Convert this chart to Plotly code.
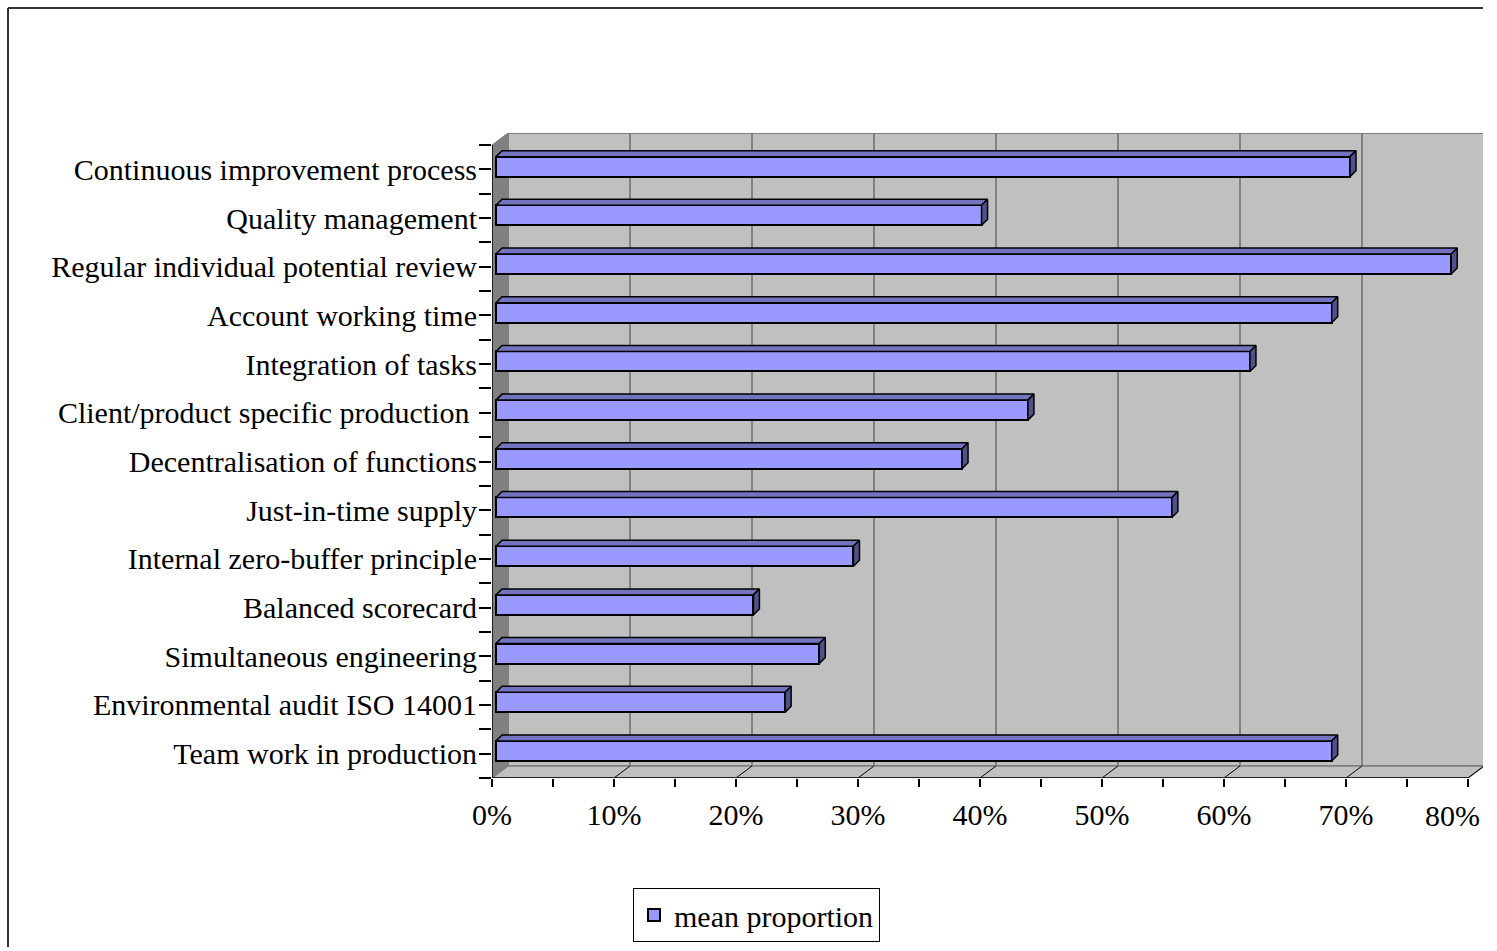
import plotly.graph_objects as go

# ---------------- data ----------------
categories = [
    "Continuous improvement process",
    "Quality management",
    "Regular individual potential review",
    "Account working time",
    "Integration of tasks",
    "Client/product specific production\u00a0",
    "Decentralisation of functions",
    "Just-in-time supply",
    "Internal zero-buffer principle",
    "Balanced scorecard",
    "Simultaneous engineering",
    "Environmental audit ISO 14001",
    "Team work in production",
]
mean_proportion = [0.700, 0.398, 0.783, 0.685, 0.618, 0.436, 0.382,
                   0.554, 0.293, 0.211, 0.265, 0.237, 0.685]
x_tick_values = [0.0, 0.1, 0.2, 0.3, 0.4, 0.5, 0.6, 0.7, 0.8]
x_tick_labels = ["0%", "10%", "20%", "30%", "40%", "50%", "60%", "70%", "80%"]
series_name = "mean proportion"

# ---------------- geometry / style ----------------
W, H = 1483, 947
ML, MR, MT, MB = 492, 0, 133, 169
XMAX = 0.8
PX_X = XMAX / 976.0          # data units per pixel (x)
n = len(categories)
PX_Y = n / 633.0             # data units per pixel (y)
x_range = [0, (W - ML - MR) * PX_X]
y_lo = -0.5
y_range = [y_lo, y_lo + (H - MT - MB) * PX_Y]

WALL_DX = 16 * PX_X
WALL_DY = 12 * PX_Y
BAR_BASE = 4 * PX_X
BAR_W = 20 * PX_Y
BAR_OFF = 2.7 * PX_Y - BAR_W / 2
DEP_X = 6 * PX_X
DEP_Y = 6 * PX_Y

FONT = "Liberation Serif, Times New Roman, serif"
FS = 30
FACE = "#9999FF"
TOP = "#7373BF"
SIDE = "#50508A"
WALL = "#C0C0C0"
SIDEWALL = "#808080"
GRID = "#6E6E6E"

positions = [n - 1 - i for i in range(n)]

fig = go.Figure()

fig.add_trace(go.Bar(
    y=positions, x=mean_proportion, base=BAR_BASE, orientation="h",
    width=BAR_W, offset=BAR_OFF, name=series_name,
    marker=dict(color=FACE, line=dict(color="black", width=2)),
    showlegend=True, hoverinfo="x",
))

tx, ty, sx, sy = [], [], [], []
for k, v in zip(positions, mean_proportion):
    yb = k + BAR_OFF
    yt = yb + BAR_W
    xe = BAR_BASE + v
    tx += [BAR_BASE, BAR_BASE + DEP_X, xe + DEP_X, xe, BAR_BASE, None]
    ty += [yt, yt + DEP_Y, yt + DEP_Y, yt, yt, None]
    sx += [xe, xe + DEP_X, xe + DEP_X, xe, xe, None]
    sy += [yt, yt + DEP_Y, yb + DEP_Y, yb, yt, None]
fig.add_trace(go.Scatter(x=tx, y=ty, mode="lines", fill="toself", fillcolor=TOP,
                         line=dict(color="black", width=1.5), showlegend=False,
                         hoverinfo="skip"))
fig.add_trace(go.Scatter(x=sx, y=sy, mode="lines", fill="toself", fillcolor=SIDE,
                         line=dict(color="black", width=1.5), showlegend=False,
                         hoverinfo="skip"))

shapes = []
y_top = y_range[1]
y_floor_back = y_lo + WALL_DY
shapes.append(dict(type="rect", xref="x", yref="y", x0=WALL_DX, x1=XMAX + WALL_DX,
                   y0=y_floor_back, y1=y_top, fillcolor=WALL,
                   line=dict(color=SIDEWALL, width=2), layer="below"))
shapes.append(dict(type="path", xref="x", yref="y",
                   path=f"M0,{y_lo} L{WALL_DX},{y_floor_back} L{WALL_DX},{y_top} L0,{y_top - WALL_DY} Z",
                   fillcolor=SIDEWALL, line=dict(color=SIDEWALL, width=1), layer="below"))
shapes.append(dict(type="path", xref="x", yref="y",
                   path=f"M0,{y_lo} L{XMAX},{y_lo} L{XMAX + WALL_DX},{y_floor_back} L{WALL_DX},{y_floor_back} Z",
                   fillcolor=WALL, line=dict(color=SIDEWALL, width=1.5), layer="below"))
for xv in x_tick_values[1:-1]:
    shapes.append(dict(type="line", xref="x", yref="y", x0=xv + WALL_DX, x1=xv + WALL_DX,
                       y0=y_floor_back, y1=y_top, line=dict(color=GRID, width=1.5), layer="below"))
for xv in x_tick_values[1:]:
    shapes.append(dict(type="line", xref="x", yref="y", x0=xv, x1=xv + WALL_DX,
                       y0=y_lo, y1=y_floor_back, line=dict(color="black", width=1), layer="below"))
shapes.append(dict(type="line", xref="x", yref="y", x0=0, x1=XMAX, y0=y_lo, y1=y_lo,
                   line=dict(color="black", width=1.5)))
shapes.append(dict(type="line", xref="x", yref="y", x0=0, x1=0, y0=y_lo, y1=y_top - WALL_DY,
                   line=dict(color="black", width=1.5)))
pw, ph = W - ML - MR, H - MT - MB
bx = (8 - ML) / pw
by = (H - MB - 8) / ph
shapes.append(dict(type="line", xref="paper", yref="paper", x0=bx, x1=(W - ML) / pw,
                   y0=by, y1=by, line=dict(color="#333333", width=2)))
shapes.append(dict(type="line", xref="paper", yref="paper", x0=bx, x1=bx,
                   y0=by, y1=(H - MB - H) / ph, line=dict(color="#333333", width=2)))

# last tick label kept inside the page (right-aligned at the edge)
shown_tick_text = x_tick_labels[:-1] + [""]
annotations = [dict(x=x_tick_values[-1], y=y_lo, xref="x", yref="y",
                    text=x_tick_labels[-1], showarrow=False,
                    xanchor="right", yanchor="middle", xshift=14, yshift=-37,
                    font=dict(family=FONT, size=FS, color="black"))]

fig.update_layout(
    width=W, height=H,
    margin=dict(l=ML, r=MR, t=MT, b=MB, pad=0),
    paper_bgcolor="white", plot_bgcolor="white",
    font=dict(family=FONT, size=FS, color="black"),
    bargap=0,
    shapes=shapes,
    annotations=annotations,
    showlegend=True,
    legend=dict(x=(633 - ML) / pw, y=(H - MB - 888) / ph, xanchor="left", yanchor="top",
                bordercolor="black", borderwidth=1, bgcolor="white",
                font=dict(family=FONT, size=FS, color="black")),
    xaxis=dict(range=x_range, tickvals=x_tick_values, ticktext=shown_tick_text,
               showgrid=False, zeroline=False, showline=False,
               ticks="outside", ticklen=8, tickwidth=1.5, tickcolor="black",
               minor=dict(dtick=0.05, tick0=0, ticks="outside", ticklen=8,
                          tickwidth=1.5, tickcolor="black", showgrid=False),
               fixedrange=True, ticklabelstandoff=2),
    yaxis=dict(range=y_range, tickvals=positions, ticktext=categories,
               showgrid=False, zeroline=False, showline=False,
               ticks="outside", ticklen=12, tickwidth=1.5, tickcolor="black",
               minor=dict(tickvals=[p + 0.5 for p in range(-1, n)], ticks="outside",
                          ticklen=12, tickwidth=1.5, tickcolor="black", showgrid=False),
               fixedrange=True, ticklabelstandoff=-4),
)

fig.write_html(
    "out.html",
    config={"responsive": False, "displayModeBar": False},
    post_script="document.body.style.margin='0';document.body.style.overflow='hidden';",
)
